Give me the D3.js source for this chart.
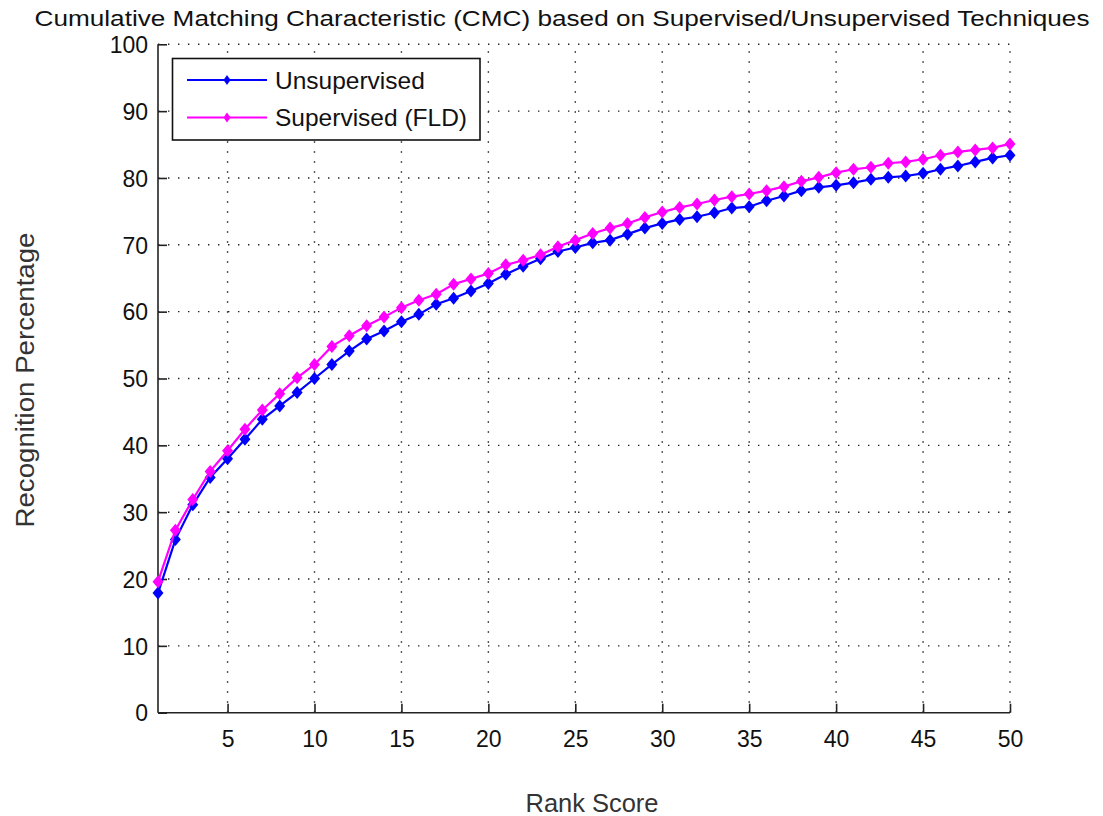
<!DOCTYPE html>
<html>
<head>
<meta charset="utf-8">
<script src="https://cdn.jsdelivr.net/npm/d3@7"></script>
<style>
  html, body { margin: 0; padding: 0; background: #fff; }
  svg { display: block; font-family: "Liberation Sans", Arial, sans-serif; }
</style>
</head>
<body>
<svg id="chart" width="1103" height="816"></svg>
<script>
const ranks = d3.range(1, 51);
const unsupervised = [17.9, 25.9, 31.1, 35.2, 38.0, 40.9, 43.9, 45.9, 47.9, 50.0,
  52.1, 54.1, 55.9, 57.1, 58.5, 59.6, 61.1, 62.0, 63.1, 64.2,
  65.6, 66.8, 67.9, 69.0, 69.6, 70.3, 70.7, 71.6, 72.5, 73.2,
  73.8, 74.2, 74.8, 75.5, 75.7, 76.6, 77.3, 78.1, 78.6, 78.9,
  79.3, 79.8, 80.1, 80.3, 80.7, 81.3, 81.8, 82.4, 83.0, 83.4];
const supervised = [19.6, 27.3, 31.9, 36.1, 39.2, 42.4, 45.3, 47.7, 50.1, 52.1,
  54.8, 56.4, 57.9, 59.2, 60.6, 61.7, 62.6, 64.1, 64.9, 65.7,
  67.0, 67.7, 68.5, 69.7, 70.7, 71.7, 72.5, 73.2, 74.1, 74.9,
  75.6, 76.1, 76.7, 77.2, 77.6, 78.1, 78.7, 79.5, 80.1, 80.8,
  81.3, 81.6, 82.2, 82.4, 82.8, 83.4, 83.9, 84.2, 84.5, 85.1];
const xTicks = [5, 10, 15, 20, 25, 30, 35, 40, 45, 50];
const yTicks = [0, 10, 20, 30, 40, 50, 60, 70, 80, 90, 100];
const seriesNames = ["Unsupervised", "Supervised (FLD)"];
const seriesColors = ["#0000ff", "#ff00ff"];

const titleText = "Cumulative Matching Characteristic (CMC) based on Supervised/Unsupervised Techniques";
const xLabel = "Rank Score";
const yLabel = "Recognition Percentage";

const svg = d3.select("#chart");
const L = 158, R = 1010, T = 44.3, B = 712.7;
const x = d3.scaleLinear().domain([1, 50]).range([L, R]);
const y = d3.scaleLinear().domain([0, 100]).range([B, T]);

const axisColor = "#222";
const gridColor = "#222";

// grid
const grid = svg.append("g");
grid.selectAll("line.gx").data(xTicks).join("line")
  .attr("x1", d => x(d)).attr("x2", d => x(d))
  .attr("y1", B).attr("y2", T)
  .attr("stroke", gridColor).attr("stroke-width", 1.4)
  .attr("stroke-dasharray", "1.4,8.6");
grid.selectAll("line.gy").data(yTicks.filter(d => d > 0)).join("line")
  .attr("x1", L).attr("x2", R)
  .attr("y1", d => y(d)).attr("y2", d => y(d))
  .attr("stroke", gridColor).attr("stroke-width", 1.4)
  .attr("stroke-dasharray", "1.4,8.6");

// axes
const xAxis = d3.axisBottom(x).tickValues(xTicks).tickSize(-9).tickPadding(18).tickFormat(d3.format("d"));
const yAxis = d3.axisLeft(y).tickValues(yTicks).tickSize(-9).tickPadding(10).tickFormat(d3.format("d"));

const gx = svg.append("g").attr("transform", `translate(0,${B})`).call(xAxis);
const gy = svg.append("g").attr("transform", `translate(${L},0)`).call(yAxis);
[gx, gy].forEach(g => {
  g.select(".domain").attr("stroke", axisColor).attr("stroke-width", 1.6);
  g.selectAll(".tick line").attr("stroke", axisColor).attr("stroke-width", 1.6);
  g.selectAll(".tick text").attr("fill", "#111").attr("font-size", 23)
    .attr("font-family", "'Liberation Sans', Arial, sans-serif");
});
gx.select(".domain").attr("d", `M${L},0H${R}`);
gy.select(".domain").attr("d", `M0,${B}V${T}`);
gy.selectAll(".tick text").attr("dy", "0.36em");

// series
const series = [unsupervised, supervised];
const line = d3.line().x((d, i) => x(ranks[i])).y(d => y(d));
const diamond = (w, h) => `M0,${-h}L${w},0L0,${h}L${-w},0Z`;

series.forEach((vals, si) => {
  const g = svg.append("g");
  g.append("path").datum(vals).attr("d", line)
    .attr("fill", "none").attr("stroke", seriesColors[si]).attr("stroke-width", 2.2);
  g.selectAll("path.m").data(vals).join("path")
    .attr("class", "m")
    .attr("transform", (d, i) => `translate(${x(ranks[i])},${y(d)})`)
    .attr("d", diamond(5.5, 6.5))
    .attr("fill", seriesColors[si]);
});

// legend
const lg = svg.append("g");
lg.append("rect").attr("x", 172.5).attr("y", 58.5).attr("width", 307.5).attr("height", 81.5)
  .attr("fill", "#fff").attr("stroke", "#111").attr("stroke-width", 1.6);
seriesNames.forEach((name, i) => {
  const yy = 80 + i * 37.5;
  lg.append("line").attr("x1", 187).attr("x2", 267).attr("y1", yy).attr("y2", yy)
    .attr("stroke", seriesColors[i]).attr("stroke-width", 2);
  lg.append("path").attr("transform", `translate(227,${yy})`).attr("d", diamond(3.5, 5))
    .attr("fill", seriesColors[i]);
  lg.append("text").attr("x", 275).attr("y", yy).attr("dy", "0.36em")
    .attr("font-size", 24.5).attr("fill", "#111").text(name);
});

// title and labels
svg.append("text").attr("x", 562).attr("y", 18).attr("dy", "0.36em")
  .attr("text-anchor", "middle").attr("font-size", 22.5).attr("fill", "#111")
  .attr("textLength", 1055).attr("lengthAdjust", "spacingAndGlyphs")
  .text(titleText);
svg.append("text").attr("x", 592).attr("y", 803).attr("dy", "0.36em")
  .attr("text-anchor", "middle").attr("font-size", 25).attr("fill", "#333")
  .attr("textLength", 133).attr("lengthAdjust", "spacingAndGlyphs")
  .text(xLabel);
svg.append("text").attr("transform", "translate(25,380) rotate(-90)").attr("dy", "0.36em")
  .attr("text-anchor", "middle").attr("font-size", 25).attr("fill", "#333")
  .attr("textLength", 295).attr("lengthAdjust", "spacingAndGlyphs")
  .text(yLabel);
</script>
</body>
</html>
